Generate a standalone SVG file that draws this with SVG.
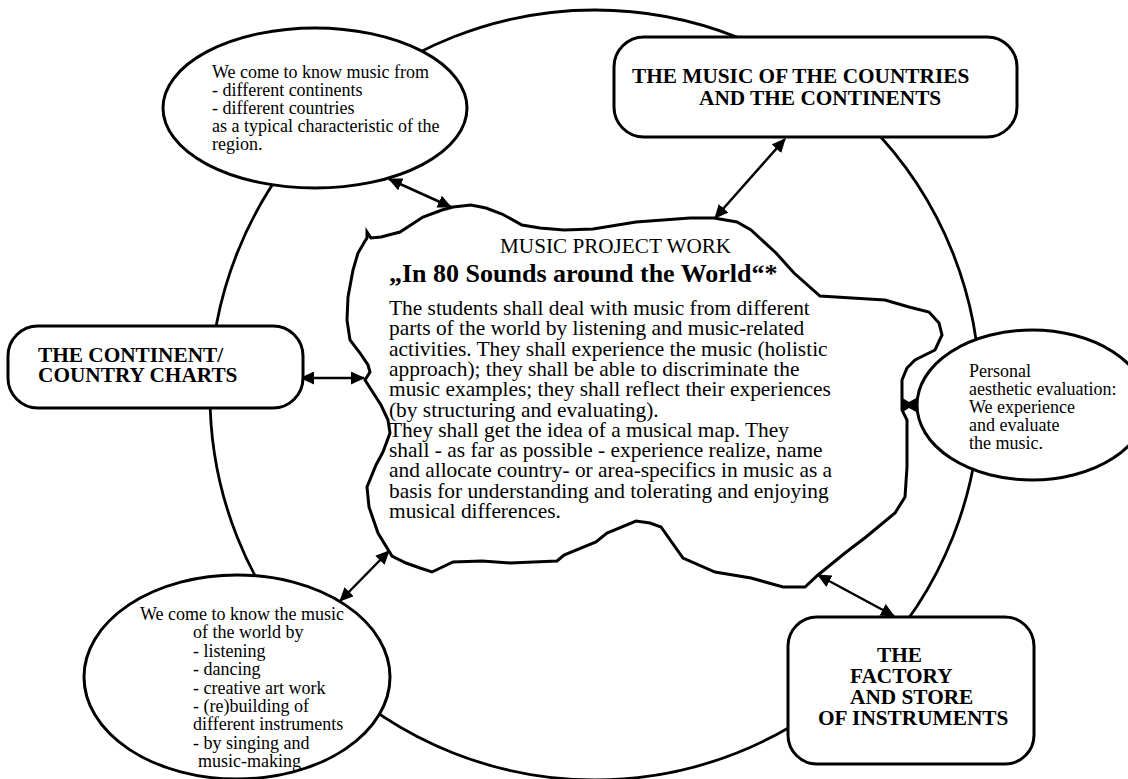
<svg xmlns="http://www.w3.org/2000/svg" width="1128" height="779" viewBox="0 0 1128 779">
<style>
.shape{fill:#fff;stroke:#000;stroke-width:3}
.ring{fill:none;stroke:#000;stroke-width:2.8}
.conn{fill:none;stroke:#000;stroke-width:2.5;marker-start:url(#ah);marker-end:url(#ah)}
text{font-family:"Liberation Serif","Times New Roman",serif;fill:#000}
.sm{font-size:18px}
.bx{font-size:21.3px;font-weight:bold}
.body{font-size:21.4px}
</style>
<defs>
<marker id="ah" markerUnits="userSpaceOnUse" markerWidth="14" markerHeight="13" refX="13" refY="6.5" orient="auto-start-reverse" viewBox="0 0 14 13">
<path d="M0,0 L14,6.5 L0,13 z" fill="#000"/>
</marker>
</defs>
<rect width="1128" height="779" fill="#fff"/>
<g id="connectors">
<circle class="ring" cx="595" cy="395" r="385"/>
<line class="conn" x1="389" y1="179" x2="451" y2="207"/>
<line class="conn" x1="785" y1="139" x2="715" y2="218"/>
<line class="conn" x1="301" y1="378" x2="364" y2="378"/>
<line class="conn" x1="818" y1="575" x2="894" y2="616"/>
<line class="conn" x1="389" y1="551" x2="340" y2="601"/>
<polygon points="901,397 909,402 918,397 918,413 909,408 901,413" fill="#000"/>
</g>
<g id="node-cloud">
<path class="shape" d="M367,238 L367,232 L371,238 L381,237 L400,232 L423,217 L442,210 L453,207 L471,205 L486,208 L502,214 L522,225 L540,228 L564,230 L593,229 L636,222 L690,218 L714,218 L737,222 L751,230 L776,253 L794,273 L820,296 L852,298 L885,300 L909,307 L929,312 L939,323 L942,335 L935,350 L915,360 L907,368 L902,380 L902,410 L907,420 L907,467 L905,497 L895,513 L866,537 L845,553 L818,575 L805,587 L783,587 L751,578 L715,572 L683,558 L661,527 L650,523 L636,521 L607,533 L596,542 L564,555 L557,561 L510,563 L482,561 L453,562 L432,572 L420,568 L406,563 L392,556 L378,533 L369,507 L367,487 L376,465 L383,452 L390,433 L388,420 L381,405 L372,391 L365,380 L370,372 L368,365 L360,353 L350,340 L347,320 L348,297 L353,270 L358,253 L365,241 Z"/>
<text x="500" y="253" style="font-size:21.2px">MUSIC PROJECT WORK</text>
<text x="389" y="282" style="font-size:26px;font-weight:bold">„In 80 Sounds around the World“*</text>
<text class="body">
<tspan x="389" y="315">The students shall deal with music from different</tspan>
<tspan x="389" y="335.3">parts of the world by listening and music-related</tspan>
<tspan x="389" y="355.6">activities. They shall experience the music (holistic</tspan>
<tspan x="389" y="375.9">approach); they shall be able to discriminate the</tspan>
<tspan x="389" y="396.2">music examples; they shall reflect their experiences</tspan>
<tspan x="389" y="416.5">(by structuring and evaluating).</tspan>
<tspan x="389" y="436.8">They shall get the idea of a musical map. They</tspan>
<tspan x="389" y="457.1">shall - as far as possible - experience realize, name</tspan>
<tspan x="389" y="477.4">and allocate country- or area-specifics in music as a</tspan>
<tspan x="389" y="497.7">basis for understanding and tolerating and enjoying</tspan>
<tspan x="389" y="518">musical differences.</tspan>
</text>
</g>
<g id="node-continents-ellipse">
<ellipse class="shape" cx="315" cy="108" rx="152" ry="80"/>
<text class="sm">
<tspan x="212" y="78">We come to know music from</tspan>
<tspan x="212" y="96">- different continents</tspan>
<tspan x="212" y="114">- different countries</tspan>
<tspan x="212" y="132">as a typical characteristic of the</tspan>
<tspan x="212" y="150">region.</tspan>
</text>
</g>
<g id="node-music-box">
<rect class="shape" x="614" y="37" width="403" height="100" rx="30" ry="30"/>
<text class="bx" x="632" y="83">THE MUSIC OF THE COUNTRIES</text>
<text class="bx" x="699" y="105">AND THE CONTINENTS</text>
</g>
<g id="node-charts-box">
<rect class="shape" x="8" y="326" width="295" height="82" rx="30" ry="30"/>
<text class="bx" x="38" y="362">THE CONTINENT/</text>
<text class="bx" x="38" y="382">COUNTRY CHARTS</text>
</g>
<g id="node-evaluation-ellipse">
<ellipse class="shape" cx="1032" cy="405" rx="115" ry="75"/>
<text class="sm">
<tspan x="969" y="377">Personal</tspan>
<tspan x="969" y="395">aesthetic evaluation:</tspan>
<tspan x="969" y="413">We experience</tspan>
<tspan x="969" y="431">and evaluate</tspan>
<tspan x="969" y="449">the music.</tspan>
</text>
</g>
<g id="node-activities-ellipse">
<ellipse class="shape" cx="237" cy="677" rx="153" ry="102"/>
<text class="sm">
<tspan x="140" y="620">We come to know the music</tspan>
<tspan x="193" y="638.4">of the world by</tspan>
<tspan x="193" y="656.8">- listening</tspan>
<tspan x="193" y="675.2">- dancing</tspan>
<tspan x="193" y="693.6">- creative art work</tspan>
<tspan x="193" y="712">- (re)building of</tspan>
<tspan x="193" y="730.4">different instruments</tspan>
<tspan x="193" y="748.8">- by singing and</tspan>
<tspan x="198" y="767.2">music-making</tspan>
</text>
</g>
<g id="node-factory-box">
<rect class="shape" x="788" y="617" width="246" height="147" rx="29" ry="29"/>
<text class="bx" x="877" y="662">THE</text>
<text class="bx" x="850" y="683">FACTORY</text>
<text class="bx" x="850" y="704">AND STORE</text>
<text class="bx" x="818" y="725">OF INSTRUMENTS</text>
</g>
</svg>
